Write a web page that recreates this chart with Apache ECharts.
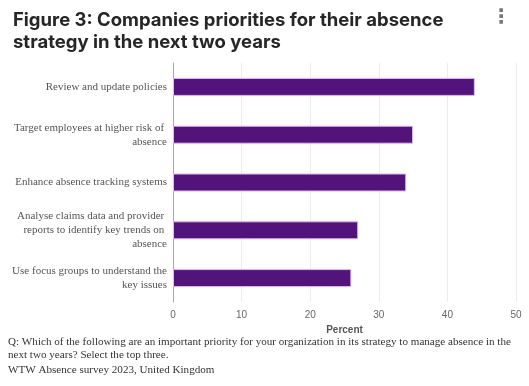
<!DOCTYPE html>
<html><head><meta charset="utf-8">
<script src="https://cdn.jsdelivr.net/npm/echarts@6/dist/echarts.min.js"></script>
<style>html,body{margin:0;padding:0;background:#fff}#c{width:529px;height:386px}</style>
</head><body><div id="c"></div>
<script>
const categories = [
  'Review and update policies',
  'Target employees at higher risk of absence',
  'Enhance absence tracking systems',
  'Analyse claims data and provider reports to identify key trends on absence',
  'Use focus groups to understand the key issues'
];
const values = [44, 35, 34, 27, 26];
const xTicks = [0, 10, 20, 30, 40, 50];

const chart = echarts.init(document.getElementById('c'), null, {renderer: 'canvas'});
chart.setOption({
  animation: false,
  title: {
    text: 'Figure 3: Companies priorities for their absence\nstrategy in the next two years',
    left: 8, top: 4,
    textStyle: {fontFamily: 'Inter', fontWeight: 700, fontSize: 18.5, lineHeight: 22, color: '#262626'}
  },
  grid: {left: 173, right: 13, top: 63, bottom: 84, containLabel: false},
  xAxis: {
    type: 'value', min: xTicks[0], max: xTicks[xTicks.length - 1], interval: 10,
    name: 'Percent', nameLocation: 'middle', nameGap: 23,
    nameTextStyle: {fontFamily: 'Arial, Liberation Sans', fontWeight: 'bold', fontSize: 10, color: '#555'},
    axisLine: {show: false}, axisTick: {show: false},
    axisLabel: {fontFamily: 'Arial, Liberation Sans', fontSize: 10, color: '#666', margin: 8},
    splitLine: {lineStyle: {color: '#ececec', width: 1}}
  },
  yAxis: {
    type: 'category', data: categories, inverse: true,
    axisLine: {show: true, lineStyle: {color: '#aaa', width: 1}},
    axisTick: {show: false},
    axisLabel: {
      fontFamily: 'Liberation Serif, Times New Roman, serif', fontSize: 11, color: '#555',
      width: 155, overflow: 'break', lineHeight: 14, margin: 6, align: 'right'
    }
  },
  series: [{
    type: 'bar', data: values, barWidth: 18,
    itemStyle: {color: '#52137b', borderColor: '#e2b8f5', borderWidth: 1}
  }],
  graphic: [
    {type: 'text', left: 491, top: 8, style: {text: '⋮', fontSize: 20, fontWeight: 'bold', fill: '#777', fontFamily: 'DejaVu Sans'}},
    {type: 'text', left: 8, top: 336, style: {
      text: 'Q: Which of the following are an important priority for your organization in its strategy to manage absence in the\nnext two years? Select the top three.',
      fontFamily: 'Liberation Serif, Times New Roman, serif', fontSize: 11.1, lineHeight: 12.5, fill: '#333'}},
    {type: 'text', left: 8, top: 365, style: {
      text: 'WTW Absence survey 2023, United Kingdom',
      fontFamily: 'Liberation Serif, Times New Roman, serif', fontSize: 11.1, fill: '#333'}}
  ]
});
</script></body></html>
